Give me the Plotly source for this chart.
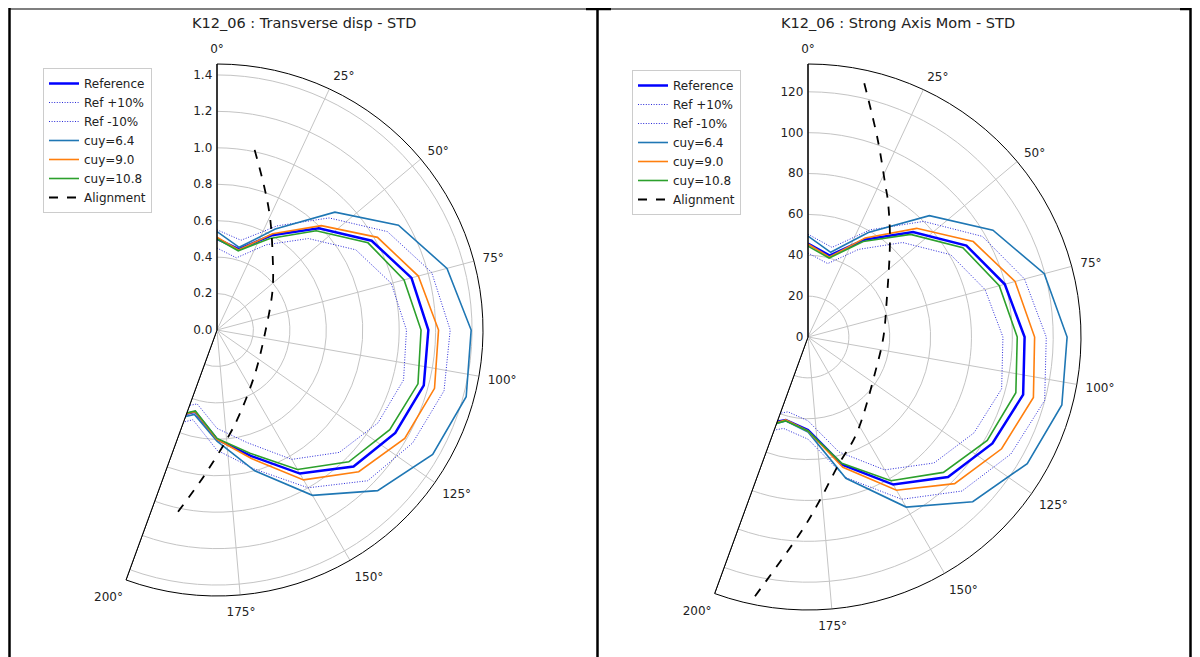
import plotly.graph_objects as go

W, H = 1200, 657
OFF = 8  # page body margin of the browser

# ---------------- data ----------------
angles = [0, 15, 30, 45, 60, 75, 90, 105, 120, 135, 150, 165, 180, 195, 210]
ang_ticks = [0, 25, 50, 75, 100, 125, 150, 175, 200]
ang_text = ["0°", "25°", "50°", "75°", "100°", "125°", "150°", "175°", "200°"]

# Left chart: Transverse disp
L_ref = [0.50, 0.46, 0.60, 0.79, 0.98, 1.105, 1.16, 1.175, 1.13, 1.06, 0.91, 0.715, 0.60, 0.465, 0.56]
L_refp = [0.55, 0.51, 0.66, 0.87, 1.08, 1.22, 1.28, 1.29, 1.24, 1.17, 1.00, 0.79, 0.66, 0.51, 0.62]
L_refm = [0.45, 0.41, 0.54, 0.71, 0.88, 0.99, 1.04, 1.06, 1.02, 0.95, 0.82, 0.64, 0.54, 0.42, 0.50]
L_c64 = [0.54, 0.47, 0.64, 0.915, 1.15, 1.307, 1.395, 1.416, 1.367, 1.247, 1.048, 0.80, 0.61, 0.48, 0.58]
L_c90 = [0.51, 0.455, 0.61, 0.81, 1.017, 1.144, 1.216, 1.236, 1.19, 1.10, 0.95, 0.73, 0.60, 0.465, 0.56]
L_c108 = [0.50, 0.45, 0.58, 0.77, 0.957, 1.063, 1.12, 1.142, 1.095, 1.023, 0.884, 0.70, 0.595, 0.46, 0.555]
L_al_theta = [11.8, 18.2, 25.0, 35.9, 54.2, 93.9, 138.7, 164.6, 174.0, 185.3, 192.1]
L_al_r = [1.01, 0.829, 0.687, 0.52, 0.376, 0.264, 0.317, 0.475, 0.59, 0.81, 1.02]
L_rmax = 1.46
L_rticks = [0.0, 0.2, 0.4, 0.6, 0.8, 1.0, 1.2, 1.4]
L_rtext = ["0.0", "0.2", "0.4", "0.6", "0.8", "1.0", "1.2", "1.4"]

# Right chart: Strong Axis Mom
R_ref = [45.7, 41.3, 55.0, 72.7, 89.5, 99.7, 106.0, 109.0, 104.2, 96.9, 83.4, 64.7, 45.5, 42.1, 50.0]
R_refp = [50.3, 45.4, 60.5, 80.0, 98.5, 109.7, 116.6, 119.9, 114.6, 106.6, 91.7, 71.2, 50.0, 46.3, 55.0]
R_refm = [41.1, 37.2, 49.5, 65.4, 80.6, 89.7, 95.4, 98.1, 93.8, 87.2, 75.1, 58.2, 41.0, 37.9, 45.0]
R_c64 = [49.4, 42.9, 59.0, 84.0, 104.5, 119.7, 126.8, 128.6, 123.9, 114.0, 96.1, 71.6, 46.5, 42.5, 52.5]
R_c90 = [45.5, 40.5, 56.0, 75.2, 93.4, 104.9, 110.9, 114.2, 109.4, 101.5, 86.6, 66.0, 46.0, 42.0, 52.0]
R_c108 = [44.5, 40.0, 54.0, 71.0, 87.5, 96.9, 102.4, 105.3, 101.3, 93.7, 81.2, 64.0, 46.0, 42.5, 52.0]
R_al_theta = [12.5, 19.5, 27.3, 30.2, 39.7, 64.8, 90.0, 113.4, 153.2, 166.7, 175.8, 181.4, 191.6]
R_al_r = [127.2, 102.3, 82.8, 77.6, 62.8, 42.6, 36.9, 36.6, 52.8, 64.4, 80.0, 93.7, 129.7]
R_rmax = 133.6
R_rticks = [0, 20, 40, 60, 80, 100, 120]
R_rtext = ["0", "20", "40", "60", "80", "100", "120"]

titles = ["K12_06 : Transverse disp - STD", "K12_06 : Strong Axis Mom - STD"]
names = ["Reference", "Ref +10%", "Ref -10%", "cuy=6.4", "cuy=9.0", "cuy=10.8", "Alignment"]

FONT = "DejaVu Sans"
fig = go.Figure()


def add_series(polar, legend, ref, refp, refm, c64, c90, c108, al_t, al_r, rmax):
    styles = [
        (ref, dict(color="#0000ff", width=2.5)),
        (refp, dict(color="#2a2ad8", width=1, dash="1px,1.6px")),
        (refm, dict(color="#2a2ad8", width=1, dash="1px,1.6px")),
        (c64, dict(color="#1f77b4", width=1.6)),
        (c90, dict(color="#ff7f0e", width=1.6)),
        (c108, dict(color="#2ca02c", width=1.6)),
    ]
    for nm, (vals, ln) in zip(names[:6], styles):
        fig.add_trace(go.Scatterpolar(r=vals, theta=angles, mode="lines", name=nm,
                                      line=ln, subplot=polar, legend=legend))
    fig.add_trace(go.Scatterpolar(r=al_r, theta=al_t, mode="lines", name=names[6],
                                  line=dict(color="black", width=1.8, dash="dash", shape="spline"),
                                  subplot=polar, legend=legend))
    # sector edge (frame) at 200 deg
    fig.add_trace(go.Scatterpolar(r=[0, rmax], theta=[ang_ticks[-1], ang_ticks[-1]], mode="lines",
                                  line=dict(color="black", width=1), showlegend=False,
                                  hoverinfo="skip", subplot=polar))


add_series("polar", "legend", L_ref, L_refp, L_refm, L_c64, L_c90, L_c108, L_al_theta, L_al_r, L_rmax)
add_series("polar2", "legend2", R_ref, R_refp, R_refm, R_c64, R_c90, R_c108, R_al_theta, R_al_r, R_rmax)


def polar_layout(cx, cy, R, rmax, rticks, rtext):
    cx -= OFF
    cy -= OFF
    x0 = cx - 0.342 * R
    x1 = cx + R
    y0 = cy - R
    y1 = cy + R
    return dict(
        domain=dict(x=[x0 / W, x1 / W], y=[1 - y1 / H, 1 - y0 / H]),
        sector=[90 - ang_ticks[-1], 90],
        bgcolor="white",
        angularaxis=dict(direction="clockwise", rotation=90, tickmode="array",
                         tickvals=ang_ticks, ticktext=ang_text, showline=True,
                         linecolor="black", linewidth=1, gridcolor="#c4c4c4", gridwidth=0.8,
                         ticks="outside", ticklen=6, tickcolor="rgba(0,0,0,0)",
                         tickfont=dict(family=FONT, size=12, color="#222")),
        radialaxis=dict(range=[0, rmax], angle=90, tickangle=90, tickmode="array",
                        tickvals=rticks, ticktext=rtext, showline=True, linecolor="black",
                        linewidth=1, gridcolor="#c4c4c4", gridwidth=0.8, ticks="",
                        side="counterclockwise",
                        tickfont=dict(family=FONT, size=12, color="#222")),
    )


shapes = []


def px(x):
    return (x - OFF) / W


def py(y):
    return 1 - (y - OFF) / H


def hline(x0, x1, y, w):
    shapes.append(dict(type="line", xref="paper", yref="paper", x0=px(x0), x1=px(x1),
                       y0=py(y), y1=py(y), line=dict(color="black", width=w)))


def vline(x, y0, y1, w):
    shapes.append(dict(type="line", xref="paper", yref="paper", x0=px(x), x1=px(x),
                       y0=py(y0), y1=py(y1), line=dict(color="black", width=w)))


hline(9, 1191, 9, 1.2)
hline(586, 611, 9, 2.5)
hline(1180, 1191, 9, 2.5)
vline(9.5, 8, 670, 2.5)
vline(597.5, 8, 670, 2.5)
vline(1190.5, 8, 670, 2.5)

legend_style = dict(font=dict(family=FONT, size=12, color="#222"), bgcolor="white",
                    bordercolor="#cccccc", borderwidth=1, xanchor="left", yanchor="top",
                    itemwidth=30, tracegroupgap=0)

fig.update_layout(
    width=W, height=H,
    margin=dict(l=0, r=0, t=0, b=0),
    paper_bgcolor="white",
    font=dict(family=FONT, size=12, color="#222"),
    polar=polar_layout(217, 330, 266, L_rmax, L_rticks, L_rtext),
    polar2=polar_layout(808, 337, 273, R_rmax, R_rticks, R_rtext),
    legend=dict(x=px(43), y=py(68), **legend_style),
    legend2=dict(x=px(632), y=py(70), **legend_style),
    shapes=shapes,
    annotations=[
        dict(text=titles[0], x=px(304), y=py(23), xref="paper", yref="paper",
             xanchor="center", yanchor="middle",
             showarrow=False, font=dict(family=FONT, size=14.5, color="#222")),
        dict(text=titles[1], x=px(898), y=py(23), xref="paper", yref="paper",
             xanchor="center", yanchor="middle",
             showarrow=False, font=dict(family=FONT, size=14.5, color="#222")),
    ],
)

fig.write_html("out.html")
